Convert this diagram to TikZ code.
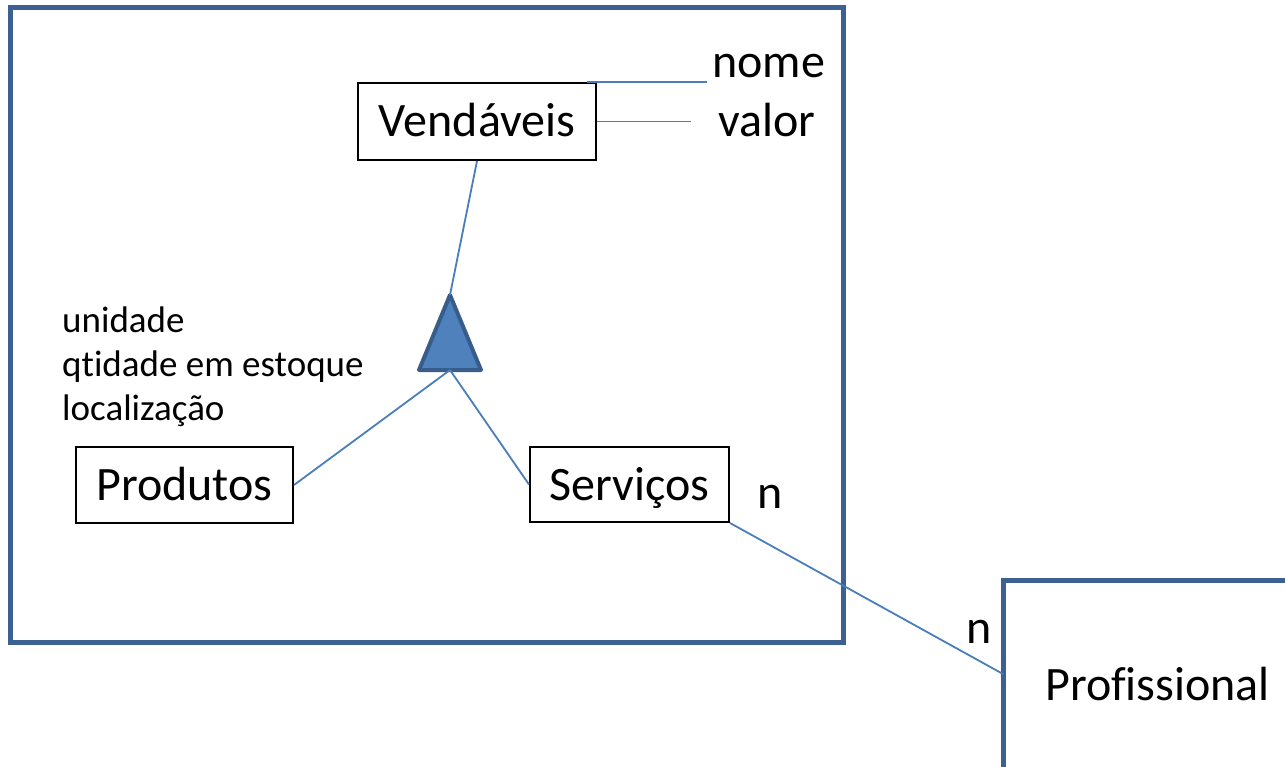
\documentclass[tikz,border=0pt]{standalone}
\usepackage{fontspec}
\setmainfont{Carlito}[Ligatures={NoCommon}]
\usetikzlibrary{positioning}
\definecolor{framecol}{RGB}{60,96,143}
\definecolor{linkcol}{RGB}{74,126,187}
\definecolor{trifill}{RGB}{79,129,189}
\definecolor{triedge}{RGB}{56,93,138}
\begin{document}
\begin{tikzpicture}[
            x=1pt, y=-1pt,
            entity/.style={draw=black, line width=2pt, inner sep=0pt, align=center, text height=31pt, text depth=0pt, font=\fontsize{48}{56}\selectfont},
            label/.style={inner sep=0pt, font=\fontsize{48}{56}\selectfont},
            frame/.style={draw=framecol, line width=5pt},
            link/.style={draw=linkcol, line width=1.8pt}
        ]
        \clip (0,0) rectangle (1285,767);

        % aggregation frame
        \draw[frame] (10,8) rectangle (843,642);
        \draw[frame] (1003,900) |- (1400,580);

        \node[entity, minimum width=238pt, minimum height=77pt] (vend) at (477,121.5) {Vendáveis};
        \node[entity, minimum width=217pt, minimum height=76pt] (prod) at (184.5,485) {Produtos};
        \node[entity, minimum width=199pt, minimum height=75pt] (serv) at (629.5,484.5) {Serviços};

        \node[label, anchor=base west] (nome) at (712,78) {nome};
        \node[label, anchor=base west] (valor) at (718,137) {valor};
        \node[label, anchor=base west] (prof) at (1045,700) {Profissional};
        \node[label, anchor=base west] (n1) at (757,508) {n};
        \node[label, anchor=base west] (n2) at (966,643) {n};

        \node[inner sep=0pt, anchor=north west, align=left, font=\fontsize{37}{44}\selectfont] (attrs) at (62,307) {unidade\\qt\kern0pt idade em estoque\\localização};

        % generalization triangle
        \coordinate (apex) at (450,295);
        \coordinate (base) at (450,370);
        \draw[fill=trifill, draw=triedge, line width=4pt, line join=round] (apex) -- (419,370) -- (481,370) -- cycle;

        \coordinate (profin) at (1003,674);

        % connectors
        \draw[link] ([xshift=-10pt]vend.north east) -- ([xshift=-5pt]nome.west |- vend.north);
        \draw[link] (vend.east) -- ([xshift=-27pt]valor.west |- vend.east);
        \draw[link] (vend.south) -- (apex);
        \draw[link] (base) -- (prod.east);
        \draw[link] (base) -- (serv.west);
        \draw[link] (serv.south east) -- (profin);

    \end{tikzpicture}
\end{document}
